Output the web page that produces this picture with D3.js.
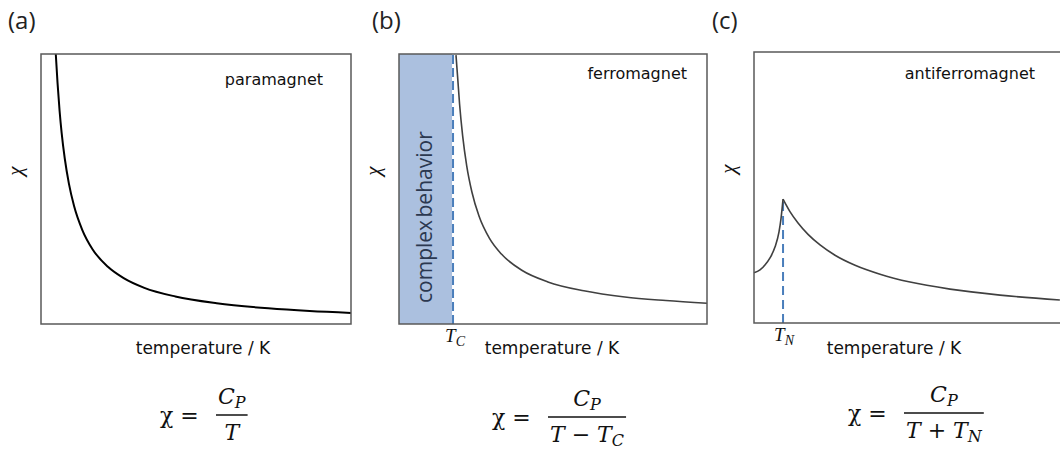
<!DOCTYPE html>
<html>
<head>
<meta charset="utf-8">
<title>Magnetic susceptibility</title>
<script src="https://cdn.jsdelivr.net/npm/d3@7"></script>
<style>
  body { margin: 0; background: #fff; }
  svg { display: block; }
  .frame { fill: none; stroke: #595959; stroke-width: 1.5; }
  .curve { fill: none; }
  .tag { font-family: "Open Sans", sans-serif; font-size: 24px; fill: #222; }
  .name { font-family: "DejaVu Sans", sans-serif; font-size: 16px; fill: #111; }
  .xlab { font-family: "DejaVu Sans", sans-serif; font-size: 17px; fill: #111; }
  .ylab { font-family: "Liberation Serif", serif; font-style: italic; font-size: 21px; fill: #111; }
  .tmark { font-family: "Liberation Serif", serif; font-style: italic; font-size: 19px; fill: #111; }
  .math { font-family: "DejaVu Serif", serif; font-size: 22px; fill: #111; }
  .it { font-style: italic; }
</style>
</head>
<body>
<svg id="chart" width="1060" height="452"></svg>
<script>
// values: temperature in K (0-300), chi in plot heights (0-1)
var paraT   = [14.3, 16, 18, 20, 23, 27, 32, 40, 50, 65, 80, 100, 130, 170, 220, 260, 300];
var paraChi = [1.0, 0.893, 0.789, 0.707, 0.613, 0.52, 0.437, 0.348, 0.276, 0.211, 0.17, 0.134, 0.102, 0.077, 0.058, 0.048, 0.041];

var ferroT   = [55.5, 57, 59, 62, 66, 71, 78, 88, 100, 120, 145, 180, 220, 260, 300];
var ferroChi = [0.996, 0.92, 0.815, 0.697, 0.585, 0.489, 0.399, 0.318, 0.258, 0.198, 0.156, 0.123, 0.1, 0.087, 0.077];
var TC = 53.6;

var afmT   = [0, 5.8, 10.6, 15.5, 20.3, 24.2, 26.1, 28.1, 34.8, 42.6, 52.3, 63.9, 78.4, 97.8, 122, 151, 189.7, 238.1, 296];
var afmChi = [0.185, 0.196, 0.214, 0.24, 0.28, 0.336, 0.384, 0.457, 0.411, 0.369, 0.327, 0.288, 0.25, 0.213, 0.18, 0.151, 0.125, 0.103, 0.085];
var TN = 28.1;

var panelTags  = ['(a)', '(b)', '(c)'];
var panelNames = ['paramagnet', 'ferromagnet', 'antiferromagnet'];

// layout of the three panels
var panels = [
    {left: 41,  top: 54, width: 310, height: 270, tagX: 8,   nameX: 323, nameY: 85, stroke: '#000',    sw: 2},
    {left: 399, top: 54, width: 308, height: 270, tagX: 372, nameX: 687, nameY: 79, stroke: '#404040', sw: 1.6},
    {left: 754, top: 52, width: 310, height: 271, tagX: 712, nameX: 1035, nameY: 79, stroke: '#404040', sw: 1.6}
];

var svg = d3.select('#chart');

panels.forEach(function (p, i) {
    p.x = d3.scaleLinear().domain([0, 300]).range([p.left, p.left + p.width]);
    p.y = d3.scaleLinear().domain([0, 1]).range([p.top + p.height, p.top]);
    p.g = svg.append('g');

    svg.append('text').attr('class', 'tag')
        .attr('x', p.tagX).attr('y', 29)
        .text(panelTags[i]);
});

var line = function (p) {
    return d3.line()
        .x(function (d) { return p.x(d[0]); })
        .y(function (d) { return p.y(d[1]); })
        .curve(d3.curveMonotoneX);
};

// (b) complex behaviour region below Tc
var pb = panels[1];
pb.g.append('rect')
    .attr('x', pb.x(0))
    .attr('y', pb.y(1))
    .attr('width', pb.x(TC) - pb.x(0) - 2)
    .attr('height', pb.y(0) - pb.y(1))
    .attr('fill', '#abc0df');

pb.g.append('text')
    .attr('transform', 'translate(' + ((pb.x(0) + pb.x(TC)) / 2 - 2) + ',' + (pb.y(0) - 21) + ') rotate(-90)')
    .attr('dy', '0.35em')
    .style('font-family', '"Open Sans", sans-serif')
    .style('font-size', '21px')
    .style('word-spacing', '-3px')
    .attr('fill', '#2b3850')
    .text('complex behavior');

pb.g.append('line')
    .attr('x1', pb.x(TC) - 1).attr('x2', pb.x(TC) - 1)
    .attr('y1', pb.y(0)).attr('y2', pb.y(1))
    .attr('stroke', '#4a7ebb').attr('stroke-width', 2)
    .attr('stroke-dasharray', '9,4');

// (c) Neel temperature marker
var pc = panels[2];
pc.g.append('line')
    .attr('x1', pc.x(TN)).attr('x2', pc.x(TN))
    .attr('y1', pc.y(0)).attr('y2', pc.y(d3.max(afmChi)))
    .attr('stroke', '#4a7ebb').attr('stroke-width', 2)
    .attr('stroke-dasharray', '9,5');

// curves
var peak = afmChi.indexOf(d3.max(afmChi));
var series = [
    [d3.zip(paraT, paraChi)],
    [d3.zip(ferroT, ferroChi)],
    [d3.zip(afmT, afmChi).slice(0, peak + 1), d3.zip(afmT, afmChi).slice(peak)]
];

panels.forEach(function (p, i) {
    series[i].forEach(function (pts) {
        p.g.append('path')
            .attr('class', 'curve')
            .attr('d', line(p)(pts))
            .attr('stroke', p.stroke)
            .attr('stroke-width', p.sw);
    });

    p.g.append('rect')
        .attr('class', 'frame')
        .attr('x', p.x(0)).attr('y', p.y(1))
        .attr('width', p.x(300) - p.x(0))
        .attr('height', p.y(0) - p.y(1));

    p.g.append('text').attr('class', 'name')
        .attr('x', p.nameX).attr('y', p.nameY)
        .attr('text-anchor', 'end')
        .text(panelNames[i]);

    p.g.append('text').attr('class', 'ylab')
        .attr('transform', 'translate(' + (p.left - 19) + ',' + (p.top + 117) + ') rotate(-90)')
        .attr('text-anchor', 'middle')
        .text('χ');
});

// x axis labels
var xlabCenters = [203, 552, 894];
panels.forEach(function (p, i) {
    p.g.append('text').attr('class', 'xlab')
        .attr('x', xlabCenters[i]).attr('y', 354)
        .attr('text-anchor', 'middle')
        .text('temperature / K');
});

function tMark(p, t, sub) {
    var tx = p.g.append('text').attr('class', 'tmark')
        .attr('x', p.x(t) + 1).attr('y', p.y(0) + 18)
        .attr('text-anchor', 'middle');
    tx.append('tspan').text('T');
    tx.append('tspan').attr('dy', 4).style('font-size', '14px').text(sub);
}
tMark(pb, TC, 'C');
tMark(pc, TN, 'N');

// formulas
var formulas = [
    {x: 160, y: 415, den: [['T', true]]},
    {x: 492, y: 417, den: [['T', true], [' − ', false], ['T', true], ['C', true, true]]},
    {x: 848, y: 413, den: [['T', true], [' + ', false], ['T', true], ['N', true, true]]}
];

formulas.forEach(function (f) {
    var g = svg.append('g').attr('class', 'math');
    g.append('text').attr('x', f.x).attr('y', f.y + 8).text('χ =');
    var barX = f.x + 56;

    var den = g.append('text').attr('y', f.y + 25);
    f.den.forEach(function (s) {
        var t = den.append('tspan').text(s[0]);
        if (s[1]) t.attr('class', 'it');
        if (s[2]) t.attr('dy', 4).style('font-size', '16px');
    });
    var num = g.append('text').attr('y', f.y - 11);
    num.append('tspan').attr('class', 'it').text('C');
    num.append('tspan').attr('class', 'it').attr('dy', 4).style('font-size', '16px').text('P');

    var dw = den.node().getComputedTextLength();
    var nw = num.node().getComputedTextLength();
    var bw = Math.max(dw, nw) + 4;
    den.attr('x', barX + (bw - dw) / 2);
    num.attr('x', barX + (bw - nw) / 2);
    g.append('line')
        .attr('x1', barX).attr('x2', barX + bw)
        .attr('y1', f.y).attr('y2', f.y)
        .attr('stroke', '#111').attr('stroke-width', 1.5);
});
</script>
</body>
</html>
